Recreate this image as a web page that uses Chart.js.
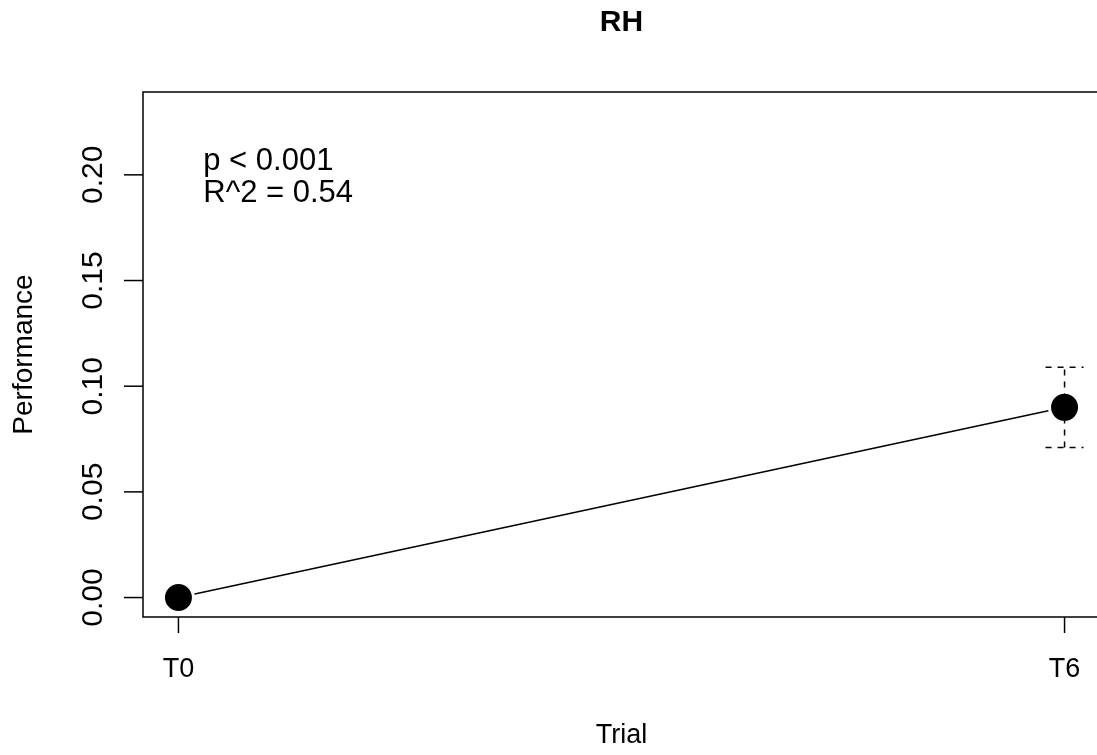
<!DOCTYPE html>
<html>
<head>
<meta charset="utf-8">
<script src="https://cdn.jsdelivr.net/npm/chart.js@4/dist/chart.umd.min.js"></script>
<style>
  html, body { margin: 0; padding: 0; background: #fff; overflow: hidden; }
  canvas { display: block; }
</style>
</head>
<body>
<canvas id="c" width="1118" height="755" style="width:1118px;height:755px"></canvas>
<script>
// ---- data ----
const categories = ["T0", "T6"];
const xPositions = [0, 1];
const performance = [0.00, 0.09];
const errLower = [null, 0.071];
const errUpper = [null, 0.109];
const yTicks = [0.00, 0.05, 0.10, 0.15, 0.20];
const annotations = ["p < 0.001", "R^2 = 0.54"];
const chartTitle = "RH";
const xTitle = "Trial";
const yTitle = "Performance";

const FONT = "'Liberation Sans', Arial, Helvetica, sans-serif";

const points = xPositions.map((x, i) => ({ x: x, y: performance[i] }));

const rPlot = {
  id: 'rPlot',
  afterDatasetsDraw(chart) {
    const ctx = chart.ctx;
    const xs = chart.scales.x, ys = chart.scales.y;
    ctx.save();
    ctx.strokeStyle = '#000';
    ctx.lineWidth = 1.5;
    ctx.setLineDash([6, 6]);
    xPositions.forEach((xv, i) => {
      if (errLower[i] == null) return;
      const px = xs.getPixelForValue(xv);
      const lo = ys.getPixelForValue(errLower[i]);
      const hi = ys.getPixelForValue(errUpper[i]);
      const hw = 19;
      ctx.beginPath();
      ctx.moveTo(px, lo); ctx.lineTo(px, hi);
      ctx.moveTo(px - hw, hi); ctx.lineTo(px + hw, hi);
      ctx.moveTo(px - hw, lo); ctx.lineTo(px + hw, lo);
      ctx.stroke();
    });
    ctx.setLineDash([]);
    ctx.restore();
  },
  afterDraw(chart) {
    const ctx = chart.ctx;
    const a = chart.chartArea;
    const xs = chart.scales.x, ys = chart.scales.y;
    ctx.save();
    ctx.strokeStyle = '#000';
    ctx.fillStyle = '#000';
    ctx.lineWidth = 1.5;
    // plot frame
    ctx.strokeRect(a.left, a.top, a.right - a.left, a.bottom - a.top);
    // title centred over plot region
    ctx.font = "bold 30px " + FONT;
    ctx.textAlign = 'center';
    ctx.textBaseline = 'middle';
    ctx.fillText(chartTitle, (a.left + a.right) / 2, 23);
    // y ticks and rotated labels
    ctx.font = "30px " + FONT;
    yTicks.forEach(v => {
      const py = ys.getPixelForValue(v);
      ctx.beginPath();
      ctx.moveTo(a.left, py); ctx.lineTo(a.left - 19, py);
      ctx.stroke();
      ctx.save();
      ctx.translate(a.left - 49, py);
      ctx.rotate(-Math.PI / 2);
      ctx.fillText(v.toFixed(2), 0, 0);
      ctx.restore();
    });
    // x tick marks
    xPositions.forEach(v => {
      const px = xs.getPixelForValue(v);
      ctx.beginPath();
      ctx.moveTo(px, a.bottom); ctx.lineTo(px, a.bottom + 16);
      ctx.stroke();
    });
    // annotation
    ctx.font = "31px " + FONT;
    ctx.textAlign = 'left';
    ctx.textBaseline = 'middle';
    const tx = xs.getPixelForValue(0.028);
    const ty0 = ys.getPixelForValue(0.2065);
    annotations.forEach((t, i) => ctx.fillText(t, tx, ty0 + i * 32));
    ctx.restore();
  }
};

new Chart(document.getElementById('c'), {
  type: 'line',
  data: {
    datasets: [{
      data: points,
      borderColor: '#000',
      borderWidth: 1.5,
      pointRadius: 15,
      pointHoverRadius: 15,
      pointBackgroundColor: '#000',
      pointBorderColor: '#fff',
      pointBorderWidth: 3,
      tension: 0,
      clip: false
    }]
  },
  options: {
    responsive: false,
    animation: false,
    events: [],
    layout: { padding: { left: 0, right: 0, top: 92, bottom: 0 } },
    plugins: {
      legend: { display: false },
      tooltip: { enabled: false },
      title: { display: false }
    },
    scales: {
      x: {
        type: 'linear',
        min: -0.04,
        max: 1.04,
        afterBuildTicks: s => { s.ticks = xPositions.map(v => ({ value: v })); },
        afterFit: s => { s.height = 138; s.paddingLeft = 0; s.paddingRight = 0; },
        grid: { display: false },
        border: { display: false },
        ticks: {
          color: '#000',
          font: { family: FONT, size: 27 },
          padding: 28,
          maxRotation: 0,
          callback: v => categories[xPositions.indexOf(v)] ?? ''
        },
        title: {
          display: true,
          text: xTitle,
          color: '#000',
          font: { family: FONT, size: 27 },
          padding: { top: 0, bottom: 3 }
        }
      },
      y: {
        type: 'linear',
        min: -0.0092,
        max: 0.2392,
        afterBuildTicks: s => { s.ticks = yTicks.map(v => ({ value: v })); },
        afterFit: s => { s.width = 143; s.paddingTop = 0; s.paddingBottom = 0; },
        grid: { display: false },
        border: { display: false },
        ticks: { display: false },
        title: {
          display: true,
          text: yTitle,
          color: '#000',
          font: { family: FONT, size: 28 },
          padding: { top: 7, bottom: 0 }
        }
      }
    }
  },
  plugins: [rPlot]
});
</script>
</body>
</html>
